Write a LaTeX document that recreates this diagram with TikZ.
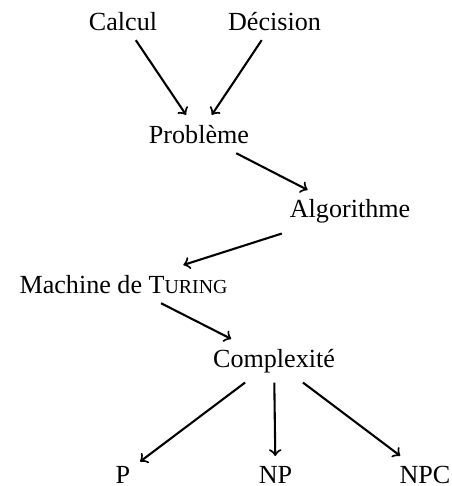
\documentclass[tikz,border=0pt]{standalone}
\usepackage{fontspec}
\setmainfont{Liberation Serif}
\newcommand{\petitcap}[1]{{\fontsize{7.6pt}{9pt}\selectfont #1}}
\begin{document}
\begin{tikzpicture}[
  n/.style={anchor=base, inner sep=3.6pt},
  a/.style={->, thick}
]
\useasboundingbox (0,-0.04) rectangle (6.083,6.501);

% --- notions ---
\node[n] (calcul)     at (1.655,6.097) {Calcul};
\node[n] (decision)   at (3.694,6.097) {Décision};
\node[n] (probleme)   at (2.678,4.576) {Problème};
\node[n] (algo)       at (4.711,3.567) {Algorithme};
\node[n] (turing)     at (1.662,2.557) {Machine de T\petitcap{URING}};
\node[n] (complexite) at (3.688,1.561) {Complexité};

\node[n] (p)   at (1.655,0) {P};
\node[n] (np)  at (3.708,0) {NP};
\node[n] (npc) at (5.720,0) {NPC};

% --- arrows ---
\draw[a] (calcul)--(probleme);
\draw[a] (decision)--(probleme);
\draw[a] (probleme)--(algo);
\draw[a] (algo)--(turing);
\draw[a] (turing)--(complexite);

% classes
\draw[a] (complexite)--(p);
\draw[a] (complexite)--(np);
\draw[a] (complexite)--(npc);

\end{tikzpicture}
\end{document}
